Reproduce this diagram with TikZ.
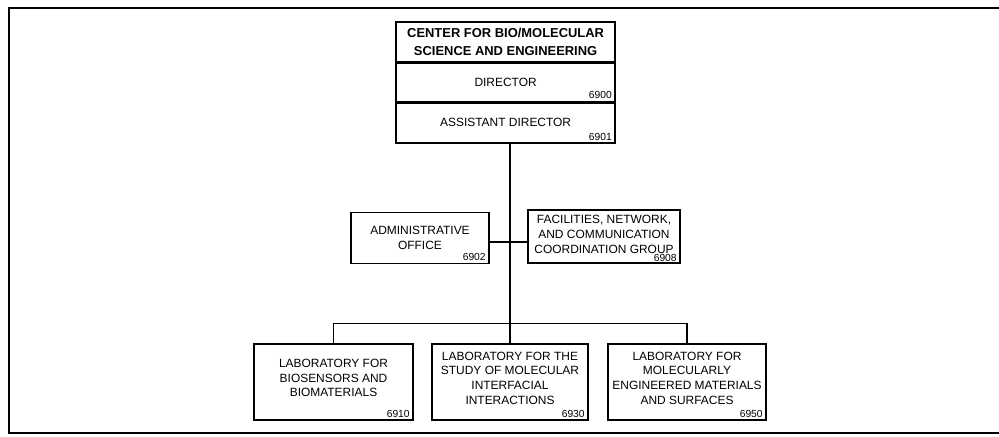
\documentclass[tikz,border=0pt]{standalone}
\usepackage{fontspec}
\setmainfont{Liberation Sans}
\usetikzlibrary{positioning}
\tikzset{
  every picture/.style={line width=0.8pt},
  unit/.style={draw, line width=1pt, align=center, inner sep=2pt, font=\fontsize{8.5}{10.5}\selectfont},
  num/.style={font=\fontsize{7.3}{8}\selectfont, inner xsep=2.5pt, inner ysep=2pt, anchor=south east},
  wire/.style={draw, line width=0.8pt},
}
\begin{document}
\begin{tikzpicture}[
  head/.style={unit, minimum width=5.475cm, minimum height=1cm},
  lab/.style={unit, minimum height=1.9cm, text depth=0.2cm}]
  \useasboundingbox (0,0) rectangle (24.975,-10.925);
  % frame, open on the right
  \draw[line width=2pt] (25.2,-0.2) -- (0.225,-0.2) -- (0.225,-10.825) -- (25.2,-10.825);
  % center
  \node[head, font=\bfseries\fontsize{9.2}{12.5}\selectfont] (ctr) at (12.64,-1.05) {CENTER FOR BIO/MOLECULAR\\SCIENCE AND ENGINEERING};
  \node[head, minimum height=0.95cm, below=0pt of ctr] (dir) {DIRECTOR};
  \node[num] (n6900) at (dir.south east) {6900};
  \node[head, below=0pt of dir] (asst) {ASSISTANT DIRECTOR};
  \node[num] (n6901) at (asst.south east) {6901};
  % staff
  \node[unit, minimum width=3.45cm, minimum height=1.275cm] (admin) at (10.5,-5.95) {ADMINISTRATIVE\\OFFICE};
  \node[num] (n6902) at (admin.south east) {6902};
  \node[unit, minimum width=3.8cm, minimum height=1.325cm, text depth=0.1cm] (fac) at (15.1,-5.9125) {FACILITIES, NETWORK,\\AND COMMUNICATION\\COORDINATION GROUP};
  \node[num, inner ysep=0.8pt] (n6908) at (fac.south east) {6908};
  % laboratories
  \node[lab, minimum width=3.975cm] (laba) at (8.3375,-9.55) {LABORATORY FOR\\BIOSENSORS AND\\BIOMATERIALS};
  \node[num] (n6910) at (laba.south east) {6910};
  \node[lab, minimum width=3.9cm] (labb) at (12.75,-9.55) {LABORATORY FOR THE\\STUDY OF MOLECULAR\\INTERFACIAL\\INTERACTIONS};
  \node[num] (n6930) at (labb.south east) {6930};
  \node[lab, minimum width=3.95cm] (labc) at (17.175,-9.55) {LABORATORY FOR\\MOLECULARLY\\ENGINEERED MATERIALS\\AND SURFACES};
  \node[num] (n6950) at (labc.south east) {6950};
  % lines
  \draw[wire] (asst.south -| labb.north) -- (labb.north);
  \draw[wire] ([yshift=-0.1cm]admin.east) -- ([yshift=-0.1cm]admin.east -| fac.west);
  \draw[wire] (laba.north) -- ++(0,0.5) -| (labc.north);
\end{tikzpicture}
\end{document}
